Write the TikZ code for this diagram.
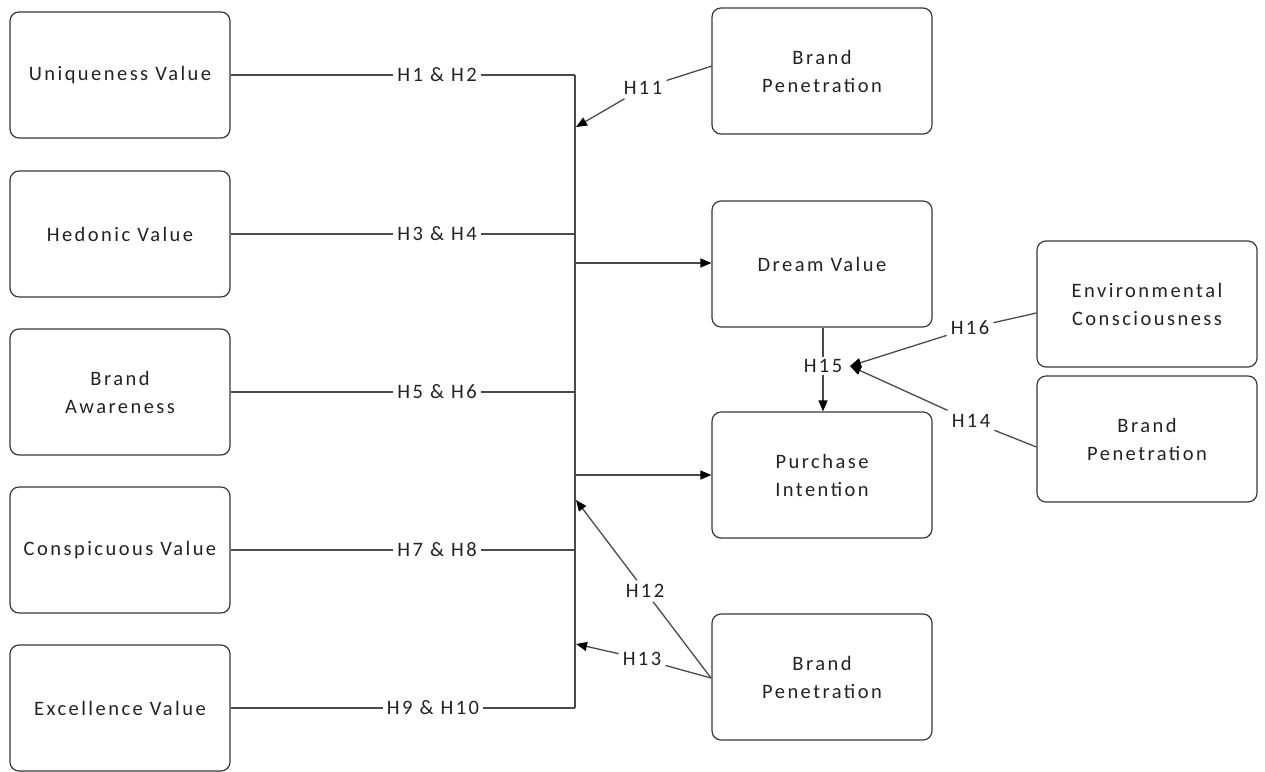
\documentclass[tikz,border=0pt]{standalone}
\usepackage{fontspec}
\setmainfont[LetterSpace=12]{Carlito}
\usetikzlibrary{arrows.meta}
\definecolor{edge}{HTML}{4A4A4A}
\definecolor{ink}{HTML}{222222}
\begin{document}
\begin{tikzpicture}[x=1pt,y=-1pt,
  box/.style={draw=ink!90, line width=1.2pt, rounded corners=9pt,
    minimum width=220pt, minimum height=126pt, align=center,
    text=ink, font=\fontsize{20.5}{28}\selectfont},
  hyp/.style={text=ink, inner sep=4pt, font=\fontsize{20.5}{28}\selectfont},
  link/.style={draw=edge, line width=1.3pt},
  arr/.style={link, -{Triangle[length=11pt,width=9pt,color=black]}}]
\useasboundingbox (0,0) rectangle (1265,771);

% predictor constructs
\node[box] (uniq) at (120,75) {Uniqueness Value};
\node[box] (hedo) at (120,234) {Hedonic Value};
\node[box] (awar) at (120,392) {Brand\\Awareness};
\node[box] (consp) at (120,550) {Conspicuous Value};
\node[box] (exce) at (120,708) {Excellence Value};

% outcome constructs
\node[box] (bp1) at (822,71) {Brand\\Penetration};
\node[box] (dream) at (822,264) {Dream Value};
\node[box] (purch) at (822,475) {Purchase\\Intention};
\node[box] (bp3) at (822,677) {Brand\\Penetration};
\node[box] (envc) at (1147,304) {Environmental\\Consciousness};
\node[box] (bp2) at (1147,439) {Brand\\Penetration};

% collecting bus
\coordinate (vt) at (575,75);
\coordinate (vb) at (575,708);
\draw[link] (vt) -- (vb);

% hypothesis labels on the predictor links
\node[hyp] (h1) at (437,75) {H1 \& H2};
\node[hyp] (h3) at (437,234) {H3 \& H4};
\node[hyp] (h5) at (437,392) {H5 \& H6};
\node[hyp] (h7) at (437,550) {H7 \& H8};
\node[hyp] (h9) at (433,708) {H9 \& H10};

\draw[link] (uniq) -- (h1) -- (h1 -| vt);
\draw[link] (hedo) -- (h3) -- (h3 -| vt);
\draw[link] (awar) -- (h5) -- (h5 -| vt);
\draw[link] (consp) -- (h7) -- (h7 -| vt);
\draw[link] (exce) -- (h9) -- (h9 -| vt);

% bus to outcomes
\coordinate (tdream) at (575,263);
\coordinate (tpurch) at (575,475);
\draw[arr] (tdream) -- (dream.west |- tdream);
\draw[arr] (tpurch) -- (purch.west |- tpurch);

% moderation by brand penetration
\node[hyp] (h11) at (643,88) {H11};
\coordinate (t11) at (576,127);
\coordinate (s11) at (712,66);
\draw[link] (s11) -- (h11);
\draw[arr] (h11) -- (t11);

\node[hyp] (h12) at (645,591) {H12};
\node[hyp] (h13) at (642,659) {H13};
\coordinate (s3) at (711,678);
\coordinate (t12) at (576,500);
\coordinate (t13) at (576,644);
\draw[link] (s3) -- (h12);
\draw[arr] (h12) -- (t12);
\draw[link] (s3) -- (h13);
\draw[arr] (h13) -- (t13);

% dream value to purchase intention
\node[hyp, inner sep=2pt] (h15) at (823,366) {H15};
\draw[link] (dream.south -| h15) -- (h15);
\draw[arr] (h15) -- (purch.north -| h15);

\coordinate (t15) at (850,366);
\node[hyp] (h16) at (970,328) {H16};
\node[hyp] (h14) at (971,421) {H14};
\draw[link] (envc.west |- 0,313) -- (h16);
\draw[arr] (h16) -- (t15);
\draw[link] (bp2.west |- 0,447) -- (h14);
\draw[arr] (h14) -- (t15);
\end{tikzpicture}
\end{document}
